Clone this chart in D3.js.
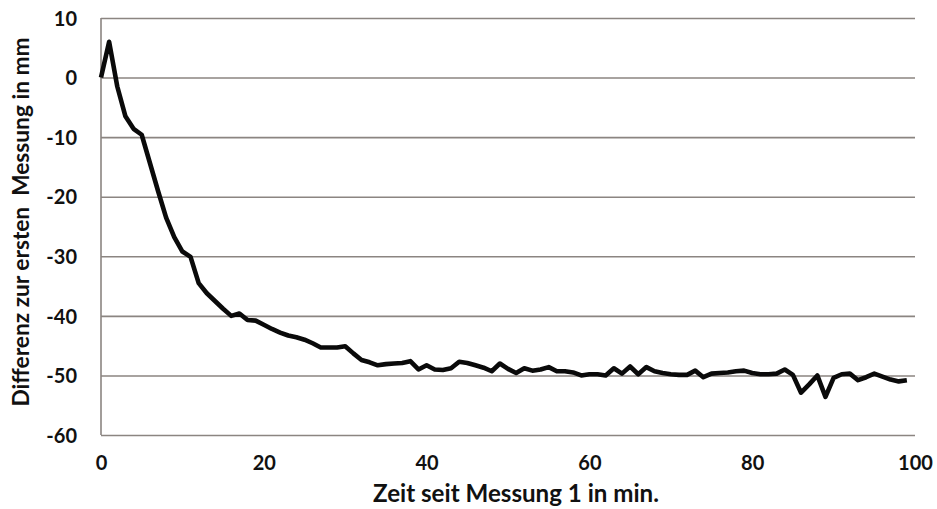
<!DOCTYPE html>
<html>
<head>
<meta charset="utf-8">
<script src="https://cdn.jsdelivr.net/npm/d3@7"></script>
<style>
  html, body { margin: 0; padding: 0; background: #fff; }
  svg { display: block; }
  .tick text { font-family: Lato, "Open Sans", sans-serif; font-weight: 700; fill: #111; }
</style>
</head>
<body>
<svg id="chart" width="937" height="509"></svg>
<script>
// Time since first measurement (minutes)
const minutes = d3.range(0, 100);
// Difference to the first measurement (mm), one reading per minute
const diffMm = [
  0.0, 6.0, -1.5, -6.5, -8.6, -9.6, -14.3, -19.0, -23.5, -26.8,
  -29.2, -30.1, -34.5, -36.2, -37.5, -38.8, -40.0, -39.6, -40.7, -40.8,
  -41.5, -42.2, -42.8, -43.3, -43.6, -44.0, -44.6, -45.3, -45.3, -45.3,
  -45.1, -46.3, -47.4, -47.8, -48.3, -48.1, -48.0, -47.9, -47.6, -49.0,
  -48.3, -49.0, -49.1, -48.8, -47.7, -47.9, -48.3, -48.7, -49.3, -48.0,
  -48.9, -49.6, -48.8, -49.2, -49.0, -48.6, -49.3, -49.3, -49.5, -50.0,
  -49.8, -49.8, -50.0, -48.8, -49.7, -48.5, -49.8, -48.6, -49.3, -49.6,
  -49.8, -49.9, -49.9, -49.2, -50.3, -49.7, -49.6, -49.5, -49.3, -49.2,
  -49.6, -49.8, -49.8, -49.7, -49.0, -49.9, -52.9, -51.5, -50.0, -53.6,
  -50.4, -49.8, -49.7, -50.8, -50.3, -49.7, -50.2, -50.7, -51.0, -50.8
];
const xTicks = [0, 20, 40, 60, 80, 100];
const yTicks = [10, 0, -10, -20, -30, -40, -50, -60];
const xTitle = "Zeit seit Messung 1 in min.";
const yTitle = "Differenz zur ersten\u00A0 Messung in mm";

const margin = { left: 101, right: 22, top: 18, bottom: 74 };
const svg = d3.select("#chart");
const W = +svg.attr("width"), H = +svg.attr("height");
const innerW = W - margin.left - margin.right;
const innerH = H - margin.top - margin.bottom;

const x = d3.scaleLinear().domain([0, 100]).range([0, innerW]);
const y = d3.scaleLinear().domain([-60, 10]).range([innerH, 0]);

const g = svg.append("g").attr("transform", `translate(${margin.left},${margin.top})`);

const gridColor = "#8b8581";
const plainNumber = d => String(d); // hyphen-minus, as printed on the axes

// Horizontal gridlines with value labels
const yAxis = g.append("g")
  .call(d3.axisLeft(y).tickValues(yTicks).tickSize(-innerW).tickPadding(24).tickFormat(plainNumber));
yAxis.select(".domain").remove();
yAxis.selectAll(".tick line").attr("stroke", gridColor).attr("stroke-width", 1.6);
yAxis.selectAll(".tick text").attr("font-size", 20).attr("dy", "0.36em");

// Vertical axis line
g.append("line")
  .attr("x1", 0).attr("x2", 0).attr("y1", 0).attr("y2", innerH)
  .attr("stroke", gridColor).attr("stroke-width", 1.6);

// Bottom labels
const xAxis = g.append("g")
  .attr("transform", `translate(0,${innerH})`)
  .call(d3.axisBottom(x).tickValues(xTicks).tickSize(0).tickPadding(21).tickFormat(plainNumber));
xAxis.select(".domain").remove();
xAxis.selectAll(".tick text").attr("font-size", 20);

// Measurement curve
const line = d3.line()
  .x((d, i) => x(minutes[i]))
  .y(d => y(d));
g.append("path")
  .datum(diffMm)
  .attr("fill", "none")
  .attr("stroke", "#0a0a0a")
  .attr("stroke-width", 4.6)
  .attr("stroke-linejoin", "round")
  .attr("d", line);

// Axis titles, sized to their target span
function fitText(sel, targetWidth) {
  const base = 20;
  sel.attr("font-size", base);
  const w = sel.node().getComputedTextLength();
  sel.attr("font-size", base * targetWidth / w);
}

const xt = svg.append("text")
  .attr("x", 516).attr("y", 502)
  .attr("text-anchor", "middle")
  .attr("font-family", "Lato, 'Open Sans', sans-serif")
  .attr("font-weight", 700)
  .attr("fill", "#111")
  .text(xTitle);
fitText(xt, 286);

const yt = svg.append("text")
  .attr("transform", "translate(29,222) rotate(-90)")
  .attr("text-anchor", "middle")
  .attr("font-family", "Lato, 'Open Sans', sans-serif")
  .attr("font-weight", 700)
  .attr("fill", "#111")
  .attr("xml:space", "preserve")
  .text(yTitle);
fitText(yt, 369);
</script>
</body>
</html>
